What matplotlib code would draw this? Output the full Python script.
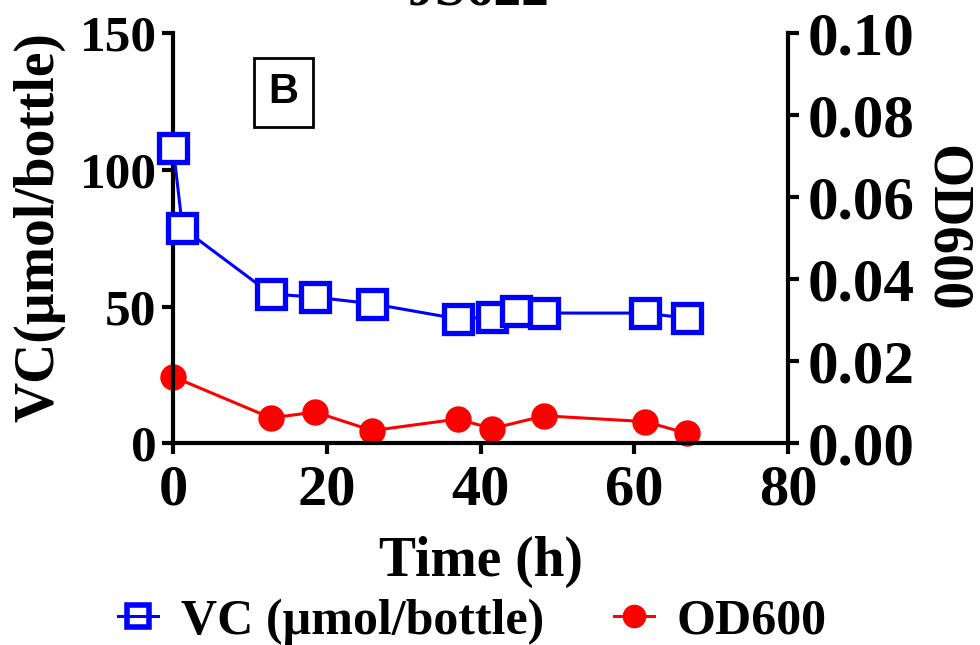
import matplotlib
matplotlib.use("Agg")
import matplotlib.pyplot as plt
from matplotlib.lines import Line2D

# Data
time_vc = [0, 1.2, 12.7, 18.5, 25.9, 37.0, 41.5, 44.6, 48.3, 61.4, 66.9]
vc = [107.9, 78.7, 54.6, 53.4, 51.0, 45.5, 46.2, 48.4, 47.6, 47.6, 45.7]
time_od = [0, 12.7, 18.5, 25.9, 37.0, 41.5, 48.3, 61.4, 66.9]
od600 = [0.0162, 0.0062, 0.0076, 0.0031, 0.0059, 0.0036, 0.0067, 0.0053, 0.0024]

left_ticks = [0, 50, 100, 150]
right_ticks = [0.00, 0.02, 0.04, 0.06, 0.08, 0.10]
right_ticklabels = ["0.00", "0.02", "0.04", "0.06", "0.08", "0.10"]
x_ticks = [0, 20, 40, 60, 80]

plt.rcParams['font.family'] = ['Liberation Serif', 'DejaVu Serif']
plt.rcParams['font.weight'] = 'bold'

fig = plt.figure(figsize=(9.8, 6.45), dpi=100)
ax = fig.add_axes([0.1768, 0.3127, 0.6273, 0.6363])
ax2 = ax.twinx()

lw_sp = 3.0
for a in (ax, ax2):
    a.spines['top'].set_visible(False)
    for s in ('left', 'right', 'bottom'):
        a.spines[s].set_linewidth(lw_sp)
    a.tick_params(width=lw_sp, length=8)

ax.spines['right'].set_visible(False)
ax2.spines['left'].set_visible(False)
ax2.spines['bottom'].set_visible(False)

ax.tick_params(axis='x', labelsize=42, pad=7)
ax.tick_params(axis='y', labelsize=37, pad=4)
ax2.tick_params(axis='y', labelsize=44, pad=6)

blue = '#0000ff'
red = '#ff0000'
ax.plot(time_vc, vc, color=blue, lw=2.2, marker='s', ms=20,
        mfc='white', mec=blue, mew=3.8, zorder=3, clip_on=False)
ax2.plot(time_od, od600, color=red, lw=2.2, marker='o', ms=18,
         mfc=red, mec=red, zorder=3, clip_on=False)

ax.set_xlim(0, 80)
ax.set_ylim(0, 150)
ax2.set_ylim(0, 0.10)
ax.set_xticks(x_ticks)
ax.set_yticks(left_ticks)
ax2.set_yticks(right_ticks)
ax2.set_yticklabels(right_ticklabels)

for lab in ax.get_xticklabels() + ax.get_yticklabels() + ax2.get_yticklabels():
    lab.set_fontweight('bold')

ax.set_xlabel('Time (h)', fontsize=40, fontweight='bold', labelpad=14)
ax.set_ylabel('VC(µmol/bottle)', fontsize=40, fontweight='bold')
ax.yaxis.set_label_coords(-0.176, 0.526)
ax2.set_ylabel('OD600', fontsize=40, fontweight='bold', rotation=270,
               rotation_mode='anchor', ha='center', va='center')
ax2.yaxis.set_label_coords(1.257, 0.5235)

fig.text(0.488, 0.993, 'JS622', fontsize=40, fontweight='bold',
         ha='center', va='baseline')

ax.text(0.179, 0.855, 'B', transform=ax.transAxes, fontsize=30, fontweight='bold',
        family=['Liberation Sans', 'DejaVu Sans'], ha='center', va='center',
        bbox=dict(boxstyle='square,pad=0.35', fc='white', ec='black', lw=2))

ax.set_zorder(ax2.get_zorder() + 1)
ax.patch.set_visible(False)

h1 = Line2D([], [], color=blue, lw=2.2, marker='s', ms=16, mfc='none', mec=blue, mew=4)
h2 = Line2D([], [], color=red, lw=2.2, marker='o', ms=16, mfc=red, mec=red)
fig.legend(handles=[h1, h2], labels=['VC (µmol/bottle)', 'OD600'],
           loc='center', bbox_to_anchor=(0.482, 0.036), ncol=2,
           frameon=False, handlelength=0.8, columnspacing=1.4, handletextpad=0.45,
           prop={'weight': 'bold', 'size': 36})

fig.savefig('out.png', dpi=100)
